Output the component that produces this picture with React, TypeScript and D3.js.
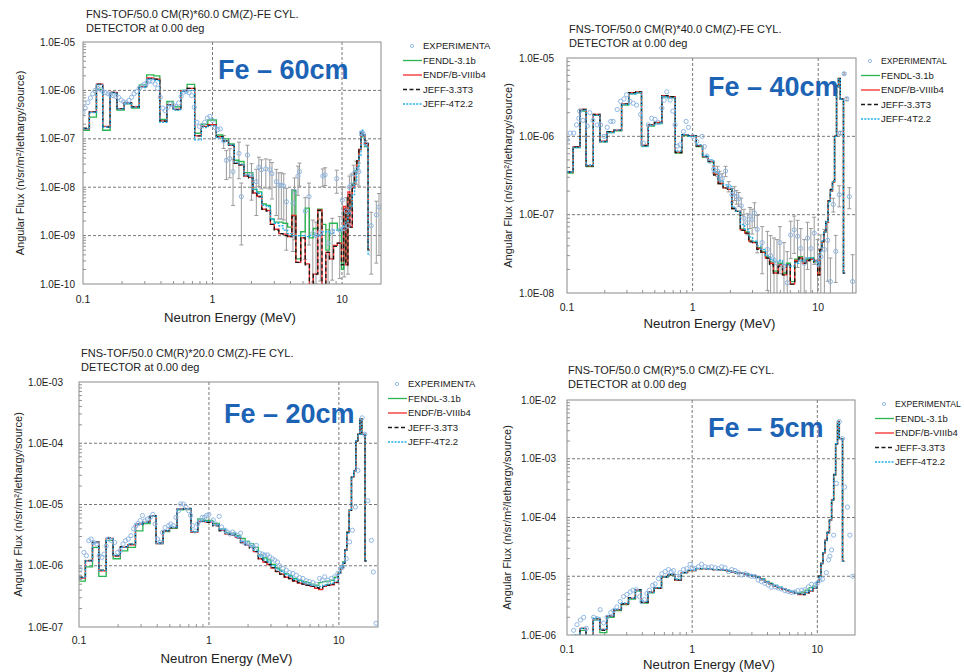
import React from "react";
import * as d3 from "d3";

// group boundaries (MeV) shared by all calculated spectra
const binEdges = [0.1, 0.112, 0.127, 0.142, 0.162, 0.183, 0.208, 0.237, 0.272, 0.31,
  0.352, 0.392, 0.444, 0.497, 0.569, 0.637, 0.728, 0.82, 0.92, 1.07,
  1.2, 1.33, 1.47, 1.6, 1.75, 1.9, 2.05, 2.2, 2.4, 2.6,
  2.8, 3.0, 3.25, 3.5, 3.8, 4.1, 4.4, 4.8, 5.2, 5.6,
  6.0, 6.5, 7.0, 7.5, 8.0, 8.6, 9.2, 9.9, 10.3, 10.7,
  11.1, 11.5, 12.0, 12.5, 13.0, 13.5, 14.0, 14.5, 15.0, 15.9,
  16.4];

// ---- Fe 60cm
const fendl60 = [1.5e-7, 2.8e-7, 1.05e-6, 1.5e-7, 9e-7, 3.9e-7, 5.3e-7, 4.3e-7, 1.3e-6, 2.1e-6,
  2.0e-6, 2.5e-7, 5.9e-7, 4.6e-7, 1.0e-6, 1.33e-6, 1.3e-7, 2.0e-7, 2.45e-7, 1.2e-7,
  1.0e-7, 7.8e-8, 3.6e-8, 3.4e-8, 2.0e-8, 2.0e-8, 9e-9, 8e-9, 4.5e-9, 4.2e-9,
  2.2e-9, 1.9e-9, 1.9e-9, 1.8e-9, 1.5e-9, 8.5e-9, 3.3e-10, 1.2e-9, 3.7e-9, 9e-10,
  1.4e-9, 3.5e-9, 1.7e-9, 5e-10, 1.8e-9, 1.8e-9, 1.3e-9, 2e-10, 3e-9, 3e-10,
  6e-9, 4e-9, 1.2e-8, 2.2e-8, 3.5e-8, 6e-8, 1.1e-7, 1.1e-7, 7e-8, 5e-10];
const endf60 = [1.6e-7, 3.6e-7, 1.35e-6, 1.8e-7, 9.1e-7, 4.2e-7, 5.6e-7, 4.6e-7, 1.2e-6, 1.8e-6,
  1.7e-6, 2.35e-7, 5.0e-7, 4.1e-7, 9.7e-7, 1.1e-6, 1.15e-7, 1.8e-7, 1.95e-7, 1.1e-7,
  9.2e-8, 7.3e-8, 3.1e-8, 2.9e-8, 1.7e-8, 1.6e-8, 7.6e-9, 6.5e-9, 3.5e-9, 3.3e-9,
  1.7e-9, 1.35e-9, 1.1e-9, 1.07e-9, 9.5e-10, 2.6e-9, 2.8e-10, 9.0e-10, 2.6e-10, 8e-11,
  1.6e-10, 3.4e-9, 8e-11, 4.5e-10, 3.3e-10, 6.3e-10, 7e-10, 3e-10, 4e-9, 2.5e-10,
  8e-9, 1.5e-9, 1.0e-8, 2.0e-8, 3.5e-8, 6e-8, 1.3e-7, 1.2e-7, 8e-8, 5e-10];
const jeff33_60 = [1.65e-7, 3.6e-7, 1.35e-6, 1.75e-7, 9.1e-7, 4.2e-7, 5.5e-7, 4.6e-7, 1.2e-6, 1.75e-6,
  1.7e-6, 2.3e-7, 5.0e-7, 4.0e-7, 9.6e-7, 1.1e-6, 1.15e-7, 1.8e-7, 1.9e-7, 1.1e-7,
  9.0e-8, 7.3e-8, 3.1e-8, 2.9e-8, 1.7e-8, 1.55e-8, 7.6e-9, 6.3e-9, 3.5e-9, 3.2e-9,
  1.7e-9, 1.3e-9, 1.1e-9, 1.0e-9, 9.5e-10, 2.5e-9, 2.8e-10, 9.0e-10, 2.5e-10, 8e-11,
  1.6e-10, 3.3e-9, 8e-11, 4.5e-10, 3.3e-10, 6.0e-10, 7e-10, 2.5e-10, 3.5e-9, 2.5e-10,
  7e-9, 1.5e-9, 1.1e-8, 2.0e-8, 3.5e-8, 6.5e-8, 1.35e-7, 1.2e-7, 8e-8, 5e-10];
const jeff4_60 = [1.6e-7, 3.5e-7, 1.3e-6, 1.75e-7, 8.9e-7, 4.1e-7, 5.5e-7, 4.5e-7, 1.15e-6, 1.7e-6,
  1.6e-6, 2.2e-7, 4.8e-7, 3.9e-7, 9.5e-7, 1.0e-6, 9.5e-8, 1.7e-7, 1.85e-7, 1.05e-7,
  9e-8, 7.5e-8, 3.3e-8, 3.0e-8, 1.8e-8, 1.7e-8, 9e-9, 7.5e-9, 4.2e-9, 4.0e-9,
  2.2e-9, 1.8e-9, 1.6e-9, 1.3e-9, 1.1e-9, 1.0e-9, 1.0e-9, 1.0e-9, 9.5e-10, 1.0e-9,
  1.0e-9, 1.0e-9, 1.2e-9, 1.2e-9, 1.1e-9, 1.3e-9, 1.3e-9, 1.4e-9, 1.6e-9, 2.0e-9,
  2.8e-9, 4e-9, 7e-9, 1.3e-8, 2.5e-8, 4.5e-8, 1.5e-7, 1.2e-7, 7e-8, 4e-10];
const expE60 = [0.1, 0.104, 0.109, 0.114, 0.119, 0.124, 0.13, 0.136, 0.142, 0.149,
  0.156, 0.163, 0.171, 0.179, 0.188, 0.197, 0.206, 0.216, 0.226, 0.237,
  0.248, 0.26, 0.272, 0.285, 0.298, 0.313, 0.328, 0.343, 0.36, 0.377,
  0.395, 0.413, 0.433, 0.454, 0.475, 0.498, 0.522, 0.547, 0.573, 0.6,
  0.629, 0.659, 0.69, 0.723, 0.757, 0.793, 0.831, 0.871, 0.912, 0.955,
  1.0, 1.05, 1.1, 1.15, 1.22, 1.28, 1.36, 1.44, 1.6, 1.67,
  1.86, 2.0, 2.18, 2.28, 2.39, 2.58, 2.77, 2.88, 3.11, 3.25,
  3.4, 3.55, 3.72, 4.18, 4.3, 4.57, 4.7, 5.2, 5.56, 5.95,
  6.3, 6.8, 7.1, 7.4, 7.8, 8.4, 9.1, 9.6, 10.05, 10.4,
  10.8, 11.1, 11.4, 11.8, 12.3, 12.9, 13.5, 14.1, 14.6, 15.2,
  16.8, 18.4, 19.3];
const expV60 = [3.5e-7, 4.3e-7, 5.6e-7, 7e-7, 8.5e-7, 1.0e-6, 1.1e-6, 1.05e-6, 9.5e-7, 9e-7,
  8.5e-7, 8.2e-7, 7.8e-7, 7.5e-7, 7.2e-7, 6.3e-7, 5.8e-7, 5.6e-7, 6.2e-7, 7.2e-7,
  8.5e-7, 9.5e-7, 1.1e-6, 1.25e-6, 1.35e-6, 1.45e-6, 1.55e-6, 1.55e-6, 1.35e-6, 1.1e-6,
  7.2e-7, 4.3e-7, 3.8e-7, 4.5e-7, 5.3e-7, 5.0e-7, 4.6e-7, 5.5e-7, 7.5e-7, 9.2e-7,
  9.5e-7, 9.0e-7, 7.8e-7, 4.5e-7, 2.2e-7, 1.8e-7, 1.9e-7, 2.2e-7, 2.7e-7, 2.9e-7,
  2.4e-7, 1.7e-7, 1.55e-7, 1.6e-7, 9e-8, 3.6e-8, 3.9e-8, 2.1e-8, 5e-8, 6.4e-9,
  4.6e-8, 1.8e-8, 1.3e-8, 2.6e-8, 2.3e-8, 2.4e-8, 2.3e-8, 1.9e-8, 1.3e-8, 1.1e-8,
  1.1e-8, 1.05e-8, 5e-9, 4.7e-9, 8.2e-9, 1.7e-8, 2.1e-8, 3.2e-9, 6.4e-9, 1.1e-9,
  1.0e-9, 1.15e-9, 1.7e-8, 1.8e-8, 7e-10, 1.2e-9, 1.5e-8, 1.3e-9, 5.4e-9, 1.4e-9,
  3.2e-9, 1.6e-9, 1e-8, 1.1e-8, 1.9e-8, 2.3e-8, 2.1e-8, 1.3e-7, 1.25e-7, 8e-8,
  1.6e-9, 2.7e-9, 3.9e-9];
// relative uncertainty
const expErr60 = [0, 0, 0, 0, 0, 0, 0, 0, 0, 0,
  0, 0, 0, 0, 0, 0, 0, 0, 0, 0,
  0, 0, 0, 0, 0, 0, 0, 0, 0, 0,
  0, 0, 0, 0, 0, 0, 0, 0, 0, 0,
  0, 0, 0, 0, 0, 0, 0, 0, 0, 0,
  0, 0, 0, 0, 0.3, 0.6, 0.6, 0.8, 0.7, 0.9,
  0.6, 0.7, 0.8, 0.6, 0.6, 0.6, 0.6, 0.7, 0.8, 0.8,
  0.8, 0.8, 0.9, 0.9, 0.9, 0.6, 0.5, 0.9, 0.9, 0.9,
  0.9, 0.9, 0.4, 0.4, 0.9, 0.9, 0.5, 0.9, 0.9, 0.9,
  0.9, 0.9, 0.7, 0.7, 0.5, 0.5, 0.5, 0.1, 0.1, 0.15,
  0.9, 0.9, 0.9];

// ---- Fe 40cm
const fendl40 = [3.4e-7, 7.2e-7, 2.1e-6, 4.1e-7, 1.85e-6, 8.5e-7, 1.12e-6, 1.18e-6, 2.5e-6, 3.5e-6,
  3.6e-6, 7.5e-7, 1.35e-6, 1.45e-6, 3.2e-6, 3.1e-6, 6.1e-7, 1.02e-6, 1.0e-6, 7.4e-7,
  5.4e-7, 4.7e-7, 3.3e-7, 2.5e-7, 2.2e-7, 2.1e-7, 1.2e-7, 1.1e-7, 6.6e-8, 6.0e-8,
  4.7e-8, 4.5e-8, 3.8e-8, 3.4e-8, 2.9e-8, 2.5e-8, 1.9e-8, 2.4e-8, 1.8e-8, 2.4e-8,
  1.4e-8, 2.7e-8, 2.9e-8, 2.5e-8, 2.7e-8, 2.8e-8, 2.5e-8, 1.8e-8, 3.5e-8, 4.5e-8,
  6.0e-8, 8.0e-8, 1.5e-7, 2.0e-7, 2.6e-7, 1.0e-6, 4.3e-6, 5.5e-6, 3.0e-6, 1.8e-8];
const endf40 = [3.5e-7, 7.4e-7, 2.2e-6, 4.2e-7, 1.9e-6, 8.7e-7, 1.15e-6, 1.2e-6, 2.6e-6, 3.6e-6,
  3.7e-6, 7.7e-7, 1.4e-6, 1.5e-6, 3.3e-6, 3.2e-6, 6.3e-7, 1.05e-6, 1.02e-6, 7.6e-7,
  5.5e-7, 4.8e-7, 3.3e-7, 2.5e-7, 2.2e-7, 2.1e-7, 1.2e-7, 1.1e-7, 6.4e-8, 5.8e-8,
  4.6e-8, 4.4e-8, 3.7e-8, 3.3e-8, 2.8e-8, 2.4e-8, 1.8e-8, 2.3e-8, 1.7e-8, 2.3e-8,
  1.3e-8, 2.6e-8, 2.8e-8, 2.4e-8, 2.6e-8, 2.7e-8, 2.6e-8, 1.7e-8, 3.5e-8, 4.5e-8,
  6.0e-8, 8.0e-8, 1.5e-7, 2.0e-7, 2.6e-7, 1.0e-6, 4.3e-6, 5.5e-6, 3.0e-6, 1.8e-8];
const jeff33_40 = [3.5e-7, 7.3e-7, 2.2e-6, 4.2e-7, 1.9e-6, 8.6e-7, 1.15e-6, 1.2e-6, 2.6e-6, 3.6e-6,
  3.7e-6, 7.6e-7, 1.4e-6, 1.5e-6, 3.3e-6, 3.2e-6, 6.2e-7, 1.05e-6, 1.02e-6, 7.5e-7,
  5.5e-7, 4.8e-7, 3.2e-7, 2.5e-7, 2.2e-7, 2.1e-7, 1.2e-7, 1.1e-7, 6.3e-8, 5.8e-8,
  4.5e-8, 4.4e-8, 3.6e-8, 3.3e-8, 2.8e-8, 2.3e-8, 1.8e-8, 2.2e-8, 1.7e-8, 2.3e-8,
  1.3e-8, 2.5e-8, 2.8e-8, 2.4e-8, 2.6e-8, 2.7e-8, 2.5e-8, 1.7e-8, 3.6e-8, 4.6e-8,
  6.2e-8, 8.2e-8, 1.5e-7, 2.1e-7, 2.7e-7, 1.0e-6, 4.4e-6, 5.6e-6, 3.0e-6, 1.8e-8];
const jeff4_40 = [3.5e-7, 7.2e-7, 2.15e-6, 4.3e-7, 1.85e-6, 8.6e-7, 1.12e-6, 1.2e-6, 2.55e-6, 3.5e-6,
  3.6e-6, 7.4e-7, 1.38e-6, 1.45e-6, 3.2e-6, 3.1e-6, 6.5e-7, 1.05e-6, 1.0e-6, 7.8e-7,
  5.7e-7, 5.0e-7, 3.5e-7, 2.7e-7, 2.4e-7, 2.3e-7, 1.25e-7, 1.1e-7, 7.5e-8, 6.5e-8,
  5.2e-8, 4.6e-8, 4.0e-8, 3.6e-8, 3.0e-8, 2.7e-8, 2.5e-8, 2.6e-8, 2.3e-8, 2.3e-8,
  2.2e-8, 2.4e-8, 2.6e-8, 2.6e-8, 2.8e-8, 2.8e-8, 2.6e-8, 2.2e-8, 3.3e-8, 4.6e-8,
  6.0e-8, 8.0e-8, 1.45e-7, 2.0e-7, 2.6e-7, 1.0e-6, 4.2e-6, 5.4e-6, 3.0e-6, 1.8e-8];
const expE40 = [0.1, 0.106, 0.113, 0.119, 0.124, 0.126, 0.134, 0.145, 0.152, 0.161,
  0.174, 0.185, 0.197, 0.209, 0.223, 0.233, 0.251, 0.267, 0.284, 0.298,
  0.317, 0.337, 0.358, 0.385, 0.405, 0.444, 0.472, 0.502, 0.534, 0.569,
  0.594, 0.623, 0.662, 0.696, 0.725, 0.757, 0.795, 0.845, 0.888, 0.926,
  0.999, 1.08, 1.19, 1.24, 1.3, 1.37, 1.47, 1.58, 1.64, 1.72,
  1.83, 1.94, 2.06, 2.16, 2.24, 2.33, 2.44, 2.56, 2.73, 2.86,
  2.98, 3.11, 3.27, 3.58, 3.94, 4.18, 4.45, 4.7, 4.96, 5.34,
  5.67, 6.04, 6.44, 6.85, 7.27, 7.74, 8.22, 8.74, 9.29, 9.88,
  10.5, 11.2, 11.9, 12.5, 13.2, 13.8, 14.7, 15.0, 16.1, 16.9,
  17.7, 18.8];
const expV40 = [9.1e-7, 1.1e-6, 1.1e-6, 1.4e-6, 1.7e-6, 2.1e-6, 1.6e-6, 1.35e-6, 2.0e-6, 1.6e-6,
  1.4e-6, 1.4e-6, 1.0e-6, 1.3e-6, 1.55e-6, 1.55e-6, 2.2e-6, 2.8e-6, 3.0e-6, 3.4e-6,
  2.8e-6, 2.65e-6, 2.5e-6, 1.9e-6, 8.2e-7, 1.4e-6, 1.7e-6, 1.65e-6, 1.5e-6, 2.3e-6,
  2.9e-6, 3.7e-6, 2.9e-6, 2.1e-6, 1.4e-6, 7.5e-7, 7.8e-7, 1.15e-6, 1.55e-6, 1.3e-6,
  1.0e-6, 8.6e-7, 1.0e-6, 7.4e-7, 5.6e-7, 4.8e-7, 3.8e-7, 3.6e-7, 3.1e-7, 2.9e-7,
  3.6e-7, 2.3e-7, 1.8e-7, 1.9e-7, 1.7e-7, 1.6e-7, 1.3e-7, 9e-8, 7.9e-8, 9.5e-8,
  8.7e-8, 1.05e-7, 6.5e-8, 4.4e-8, 3.6e-8, 3.0e-8, 2.65e-8, 2.4e-8, 4.4e-8, 2.2e-8,
  1.35e-8, 5.5e-8, 6.4e-8, 5.3e-8, 3.7e-8, 2.4e-8, 5.0e-8, 3.7e-8, 5.8e-8, 2.4e-8,
  2.9e-8, 3.6e-8, 4.7e-8, 1.4e-8, 1.35e-7, 3.4e-8, 1.8e-7, 1.1e-6, 6.3e-6, 3.0e-6,
  1.7e-7, 1.4e-8];
const expErr40 = [0, 0, 0, 0, 0, 0, 0, 0, 0, 0,
  0, 0, 0, 0, 0, 0, 0, 0, 0, 0,
  0, 0, 0, 0, 0, 0, 0, 0, 0, 0,
  0, 0, 0, 0, 0, 0, 0, 0, 0, 0,
  0, 0, 0, 0, 0, 0, 0.1, 0.15, 0.15, 0.15,
  0.15, 0.15, 0.2, 0.2, 0.2, 0.2, 0.25, 0.3, 0.3, 0.3,
  0.35, 0.35, 0.5, 0.6, 0.7, 0.8, 0.9, 1.0, 0.6, 1.0,
  1.5, 0.5, 0.5, 0.6, 0.8, 1.0, 0.6, 0.8, 0.6, 1.0,
  0.9, 0.8, 0.7, 1.0, 0.2, 0.6, 0.3, 0.05, 0.03, 0.05,
  0.3, 1.2];

// ---- Fe 20cm
const fendl20 = [5.6e-7, 9.6e-7, 2.0e-6, 6.7e-7, 2.6e-6, 1.3e-6, 1.75e-6, 2.0e-6, 3.7e-6, 4.9e-6,
  6.4e-6, 2.3e-6, 3.6e-6, 4.1e-6, 8.2e-6, 8.3e-6, 3.6e-6, 5.8e-6, 5.5e-6, 4.9e-6,
  4.0e-6, 3.5e-6, 3.4e-6, 3.1e-6, 2.8e-6, 2.5e-6, 2.3e-6, 2.0e-6, 1.5e-6, 1.35e-6,
  1.25e-6, 1.05e-6, 9.2e-7, 8.4e-7, 7.4e-7, 6.9e-7, 6.2e-7, 5.8e-7, 5.5e-7, 5.3e-7,
  5.0e-7, 4.8e-7, 5.3e-7, 5.5e-7, 5.6e-7, 5.8e-7, 6.5e-7, 7.8e-7, 9.2e-7, 1.15e-6,
  1.8e-6, 3.5e-6, 8e-6, 2.8e-5, 3.5e-5, 1.1e-4, 1.4e-4, 2.5e-4, 1.4e-4, 1.2e-6];
const endf20 = [6.3e-7, 1.2e-6, 2.4e-6, 8.3e-7, 2.8e-6, 1.45e-6, 2.0e-6, 2.2e-6, 4.8e-6, 5.1e-6,
  6.6e-6, 2.3e-6, 3.7e-6, 4.2e-6, 8.5e-6, 8.5e-6, 3.5e-6, 5.3e-6, 5.2e-6, 4.6e-6,
  3.8e-6, 3.3e-6, 3.2e-6, 2.9e-6, 2.4e-6, 2.15e-6, 2.0e-6, 1.7e-6, 1.3e-6, 1.15e-6,
  1.05e-6, 9.2e-7, 8.0e-7, 7.3e-7, 6.5e-7, 6.2e-7, 5.6e-7, 5.2e-7, 5.0e-7, 4.8e-7,
  4.6e-7, 4.3e-7, 4.1e-7, 4.6e-7, 4.8e-7, 4.9e-7, 5.3e-7, 7.5e-7, 9e-7, 1.1e-6,
  1.8e-6, 3.5e-6, 8e-6, 2.8e-5, 3.5e-5, 1.1e-4, 1.4e-4, 2.5e-4, 1.4e-4, 1.2e-6];
const jeff33_20 = [6.5e-7, 1.22e-6, 2.45e-6, 8.5e-7, 2.85e-6, 1.45e-6, 2.05e-6, 2.25e-6, 4.7e-6, 5.2e-6,
  6.5e-6, 2.35e-6, 3.75e-6, 4.2e-6, 8.4e-6, 8.6e-6, 3.6e-6, 5.3e-6, 5.1e-6, 4.5e-6,
  3.7e-6, 3.3e-6, 3.15e-6, 2.85e-6, 2.4e-6, 2.2e-6, 1.95e-6, 1.7e-6, 1.3e-6, 1.15e-6,
  1.05e-6, 9.3e-7, 8.1e-7, 7.3e-7, 6.6e-7, 6.2e-7, 5.7e-7, 5.3e-7, 5.0e-7, 4.8e-7,
  4.6e-7, 4.4e-7, 4.3e-7, 4.6e-7, 4.8e-7, 5.0e-7, 5.4e-7, 7.5e-7, 9e-7, 1.1e-6,
  1.8e-6, 3.5e-6, 8e-6, 2.9e-5, 3.6e-5, 1.1e-4, 1.4e-4, 2.5e-4, 1.4e-4, 1.2e-6];
const jeff4_20 = [6.4e-7, 1.2e-6, 2.4e-6, 8.4e-7, 2.8e-6, 1.5e-6, 2.0e-6, 2.25e-6, 4.8e-6, 5.1e-6,
  6.5e-6, 2.35e-6, 3.7e-6, 4.3e-6, 8.4e-6, 8.5e-6, 3.6e-6, 5.4e-6, 5.3e-6, 4.7e-6,
  3.9e-6, 3.4e-6, 3.3e-6, 3.0e-6, 2.5e-6, 2.25e-6, 2.1e-6, 1.8e-6, 1.4e-6, 1.25e-6,
  1.15e-6, 1.0e-6, 8.8e-7, 8.0e-7, 7.2e-7, 6.7e-7, 6.0e-7, 5.6e-7, 5.3e-7, 5.0e-7,
  4.8e-7, 4.6e-7, 4.6e-7, 4.8e-7, 5.0e-7, 5.2e-7, 5.6e-7, 7.6e-7, 9.2e-7, 1.1e-6,
  1.8e-6, 3.4e-6, 8e-6, 2.8e-5, 3.5e-5, 1.1e-4, 1.4e-4, 2.5e-4, 1.4e-4, 1.2e-6];
const expE20 = [0.102, 0.109, 0.114, 0.119, 0.124, 0.13, 0.137, 0.143, 0.15, 0.156,
  0.162, 0.169, 0.177, 0.188, 0.198, 0.208, 0.218, 0.228, 0.239, 0.251,
  0.263, 0.274, 0.285, 0.296, 0.308, 0.323, 0.336, 0.353, 0.37, 0.385,
  0.402, 0.421, 0.439, 0.46, 0.488, 0.508, 0.533, 0.558, 0.582, 0.606,
  0.635, 0.666, 0.698, 0.723, 0.749, 0.78, 0.818, 0.852, 0.888, 0.925,
  0.958, 0.999, 1.08, 1.13, 1.2, 1.25, 1.33, 1.39, 1.45, 1.52,
  1.58, 1.68, 1.75, 1.83, 1.92, 2.0, 2.12, 2.21, 2.32, 2.46,
  2.58, 2.69, 2.82, 2.94, 3.08, 3.21, 3.37, 3.5, 3.72, 3.94,
  4.18, 4.43, 4.7, 4.99, 5.29, 5.61, 5.95, 6.31, 6.7, 7.1,
  7.45, 7.77, 8.24, 8.74, 9.27, 9.83, 10.3, 10.7, 11.4, 12.1,
  12.7, 13.4, 14.0, 15.1, 15.8, 16.7, 17.8, 18.4, 19.3];
const expV20 = [8.8e-7, 1.65e-6, 1.46e-6, 2.57e-6, 2.73e-6, 2.4e-6, 2.26e-6, 1.46e-6, 1.37e-6, 1.55e-6,
  2.1e-6, 2.73e-6, 2.57e-6, 2.4e-6, 1.65e-6, 1.76e-6, 2.26e-6, 2.57e-6, 2.73e-6, 3.1e-6,
  4.0e-6, 4.5e-6, 4.9e-6, 5.45e-6, 6.6e-6, 5.45e-6, 5.8e-6, 6.15e-6, 6.9e-6, 4.8e-6,
  2.73e-6, 2.4e-6, 3.5e-6, 4.2e-6, 4.5e-6, 4.8e-6, 4.5e-6, 6.15e-6, 7.9e-6, 1.02e-5,
  1.02e-5, 9.0e-6, 7.9e-6, 6.6e-6, 4.5e-6, 3.7e-6, 4.8e-6, 5.45e-6, 6.15e-6, 6.15e-6,
  6.6e-6, 6.9e-6, 5.6e-6, 4.8e-6, 6.4e-6, 4.3e-6, 3.8e-6, 3.55e-6, 3.3e-6, 3.55e-6,
  3.3e-6, 3.1e-6, 3.4e-6, 2.45e-6, 2.3e-6, 2.35e-6, 2.15e-6, 2.0e-6, 2.15e-6, 1.6e-6,
  1.55e-6, 1.5e-6, 1.5e-6, 1.4e-6, 1.3e-6, 1.23e-6, 1.15e-6, 1.0e-6, 9.0e-7, 8.5e-7,
  7.7e-7, 7.5e-7, 7.0e-7, 6.4e-7, 6.2e-7, 5.7e-7, 5.5e-7, 5.3e-7, 5.0e-7, 6.2e-7,
  5.8e-7, 6.6e-7, 5.8e-7, 6.2e-7, 6.6e-7, 7.5e-7, 9.0e-7, 9.6e-7, 1.3e-6, 2.45e-6,
  3.8e-6, 9.1e-6, 3.6e-5, 2.6e-4, 1.4e-4, 1.15e-5, 2.6e-6, 7.9e-7, 1.15e-7];

// ---- Fe 5cm
const fendl5 = [7.5e-7, 9e-7, 1.2e-6, 7.5e-7, 1.8e-6, 1.1e-6, 2.0e-6, 2.6e-6, 3.3e-6, 4.1e-6,
  5.6e-6, 3.5e-6, 5.2e-6, 6.2e-6, 9.6e-6, 1.05e-5, 8.5e-6, 1.15e-5, 1.25e-5, 1.35e-5,
  1.35e-5, 1.33e-5, 1.3e-5, 1.3e-5, 1.27e-5, 1.22e-5, 1.18e-5, 1.15e-5, 1.12e-5, 1.08e-5,
  1.05e-5, 1.02e-5, 9.7e-6, 9.0e-6, 8.2e-6, 7.6e-6, 7.0e-6, 6.5e-6, 6.1e-6, 5.8e-6,
  5.5e-6, 5.3e-6, 5.2e-6, 5.4e-6, 5.8e-6, 6.4e-6, 6.8e-6, 8e-6, 1.0e-5, 1.65e-5,
  2.5e-5, 4.1e-5, 5.5e-5, 9e-5, 2.0e-4, 5.3e-4, 1.8e-3, 4.3e-3, 2.2e-3, 1.8e-5];
const endf5 = [8e-7, 9.5e-7, 1.3e-6, 8e-7, 1.9e-6, 1.25e-6, 2.1e-6, 2.7e-6, 3.4e-6, 4.2e-6,
  5.8e-6, 3.6e-6, 5.3e-6, 6.3e-6, 9.8e-6, 1.07e-5, 8.6e-6, 1.15e-5, 1.25e-5, 1.35e-5,
  1.35e-5, 1.33e-5, 1.3e-5, 1.3e-5, 1.28e-5, 1.22e-5, 1.18e-5, 1.15e-5, 1.12e-5, 1.08e-5,
  1.05e-5, 1.02e-5, 9.6e-6, 8.8e-6, 8.0e-6, 7.4e-6, 6.9e-6, 6.4e-6, 6.0e-6, 5.7e-6,
  5.4e-6, 5.1e-6, 4.9e-6, 4.9e-6, 5.2e-6, 5.6e-6, 6.2e-6, 8e-6, 1.0e-5, 1.65e-5,
  2.5e-5, 4.1e-5, 5.5e-5, 9e-5, 2.0e-4, 5.3e-4, 1.8e-3, 4.3e-3, 2.2e-3, 1.8e-5];
const jeff33_5 = [8.2e-7, 9.7e-7, 1.3e-6, 8.2e-7, 1.9e-6, 1.2e-6, 2.1e-6, 2.7e-6, 3.4e-6, 4.3e-6,
  5.9e-6, 3.6e-6, 5.4e-6, 6.3e-6, 9.9e-6, 1.07e-5, 8.7e-6, 1.16e-5, 1.26e-5, 1.35e-5,
  1.34e-5, 1.33e-5, 1.3e-5, 1.29e-5, 1.27e-5, 1.22e-5, 1.18e-5, 1.14e-5, 1.12e-5, 1.08e-5,
  1.05e-5, 1.01e-5, 9.6e-6, 8.8e-6, 8.0e-6, 7.5e-6, 6.9e-6, 6.4e-6, 6.0e-6, 5.7e-6,
  5.4e-6, 5.1e-6, 5.0e-6, 4.9e-6, 5.2e-6, 5.6e-6, 6.2e-6, 8e-6, 1.0e-5, 1.65e-5,
  2.5e-5, 4.1e-5, 5.6e-5, 9e-5, 2.0e-4, 5.4e-4, 1.8e-3, 4.2e-3, 2.2e-3, 1.8e-5];
const jeff4_5 = [8e-7, 1.0e-6, 1.3e-6, 8e-7, 1.95e-6, 1.25e-6, 2.1e-6, 2.75e-6, 3.5e-6, 4.2e-6,
  5.8e-6, 3.7e-6, 5.3e-6, 6.4e-6, 9.8e-6, 1.08e-5, 8.8e-6, 1.15e-5, 1.26e-5, 1.36e-5,
  1.36e-5, 1.34e-5, 1.31e-5, 1.3e-5, 1.28e-5, 1.23e-5, 1.19e-5, 1.16e-5, 1.13e-5, 1.09e-5,
  1.06e-5, 1.03e-5, 9.7e-6, 8.9e-6, 8.1e-6, 7.5e-6, 7.0e-6, 6.5e-6, 6.1e-6, 5.8e-6,
  5.5e-6, 5.2e-6, 5.0e-6, 5.0e-6, 5.3e-6, 5.7e-6, 6.3e-6, 8e-6, 1.0e-5, 1.6e-5,
  2.5e-5, 4.0e-5, 5.5e-5, 9e-5, 2.0e-4, 5.3e-4, 1.8e-3, 4.3e-3, 2.2e-3, 1.8e-5];
const expE5 = [0.113, 0.12, 0.128, 0.136, 0.143, 0.163, 0.174, 0.184, 0.196, 0.209,
  0.224, 0.236, 0.25, 0.266, 0.283, 0.301, 0.32, 0.336, 0.357, 0.38,
  0.396, 0.416, 0.435, 0.456, 0.483, 0.506, 0.538, 0.572, 0.609, 0.647,
  0.679, 0.71, 0.755, 0.801, 0.852, 0.905, 0.963, 1.0,
  1.06, 1.12, 1.19, 1.27, 1.35, 1.43, 1.53, 1.62, 1.72, 1.83,
  1.95, 2.07, 2.2, 2.34, 2.49, 2.65, 2.8, 2.98, 3.17, 3.37,
  3.58, 3.8, 4.05, 4.3, 4.58, 4.86, 5.17, 5.5, 5.85, 6.2,
  6.6, 7.0, 7.5, 7.96, 8.5, 9.0, 9.6, 10.0,
  10.5, 11.0, 11.8, 12.3, 12.6, 13.0, 13.5, 14.2, 15.0, 15.9,
  16.5, 17.4, 18.2, 19.2];
const expV5 = [1.2e-6, 1.5e-6, 1.8e-6, 2.0e-6, 1.3e-6, 2.0e-6, 1.9e-6, 2.7e-6, 1.6e-6, 2.0e-6,
  2.4e-6, 2.6e-6, 3.0e-6, 3.7e-6, 4.5e-6, 4.9e-6, 5.4e-6, 5.8e-6, 5.9e-6, 4.5e-6,
  3.7e-6, 4.0e-6, 5.1e-6, 5.8e-6, 7.0e-6, 7.4e-6, 9.1e-6, 1.1e-5, 1.2e-5, 1.3e-5,
  1.2e-5, 1.25e-5, 9.9e-6, 1.15e-5, 1.3e-5, 1.35e-5, 1.6e-5, 1.4e-5,
  1.35e-5, 1.45e-5, 1.6e-5, 1.45e-5, 1.4e-5, 1.45e-5, 1.4e-5, 1.35e-5, 1.45e-5, 1.4e-5,
  1.2e-5, 1.3e-5, 1.25e-5, 1.15e-5, 1.05e-5, 1.1e-5, 1.05e-5, 1.0e-5, 9.9e-6, 8.6e-6,
  8.1e-6, 7.6e-6, 7.1e-6, 6.5e-6, 6.6e-6, 6.3e-6, 6.1e-6, 5.7e-6, 5.5e-6, 5.3e-6,
  5.4e-6, 5.7e-6, 5.8e-6, 5.9e-6, 6.6e-6, 7.3e-6, 7.1e-6, 7.6e-6,
  8.6e-6, 8.9e-6, 1.15e-5, 1.9e-5, 2.2e-5, 2.8e-5, 5.0e-5, 3.8e-4, 4.3e-3, 2.2e-3,
  3.3e-4, 1.5e-4, 5.0e-5, 1.0e-5];

const libNames = ["FENDL-3.1b", "ENDF/B-VIIIb4", "JEFF-3.3T3", "JEFF-4T2.2"];
const libColors = ["#2bb552", "#f52a2a", "#1a1a1a", "#1fb0ea"];
const libDash = [null, null, "4,2.5", "2,1.3"];

const panels = [
  { id: "p60", title: "FNS-TOF/50.0 CM(R)*60.0 CM(Z)-FE CYL.", label: "Fe \u2013 60cm",
    left: 83, top: 42, right: 381, bottom: 284, yMin: 1e-10, yMax: 1e-5,
    series: [fendl60, endf60, jeff33_60, jeff4_60], expE: expE60, expV: expV60, expErr: expErr60,
    titleX: 86, titleY: 18, labelX: 218, labelY: 79, legX: 403, legY: 46, expName: "EXPERIMENTA",
    yTickGap: 8, xTickDy: 19, xTitleY: 322, yTitleX: 20 },
  { id: "p40", title: "FNS-TOF/50.0 CM(R)*40.0 CM(Z)-FE CYL.", label: "Fe \u2013 40cm",
    left: 567, top: 58, right: 856, bottom: 293, yMin: 1e-8, yMax: 1e-5,
    series: [fendl40, endf40, jeff33_40, jeff4_40], expE: expE40, expV: expV40, expErr: expErr40,
    titleX: 569, titleY: 33, labelX: 708, labelY: 96, legX: 861, legY: 61, expName: "EXPERIMENTAL",
    yTickGap: 13, xTickDy: 18, xTitleY: 328, yTitleX: 508 },
  { id: "p20", title: "FNS-TOF/50.0 CM(R)*20.0 CM(Z)-FE CYL.", label: "Fe \u2013 20cm",
    left: 79, top: 382, right: 378, bottom: 627, yMin: 1e-7, yMax: 1e-3,
    series: [fendl20, endf20, jeff33_20, jeff4_20], expE: expE20, expV: expV20, expErr: null,
    titleX: 81, titleY: 357, labelX: 224, labelY: 423, legX: 388, legY: 384, expName: "EXPERIMENTA",
    yTickGap: 16, xTickDy: 17, xTitleY: 663, yTitleX: 18 },
  { id: "p5", title: "FNS-TOF/50.0 CM(R)*5.0 CM(Z)-FE CYL.", label: "Fe \u2013 5cm",
    left: 567, top: 400, right: 855, bottom: 635, yMin: 1e-6, yMax: 1e-2,
    series: [fendl5, endf5, jeff33_5, jeff4_5], expE: expE5, expV: expV5, expErr: null,
    titleX: 568, titleY: 374, labelX: 708, labelY: 437, legX: 875, legY: 404, expName: "EXPERIMENTAL",
    yTickGap: 11, xTickDy: 18, xTitleY: 669, yTitleX: 507 },
];

const font = "'Liberation Sans', Arial, sans-serif";

const Panel = ({ p }) => {
  const x = d3.scaleLog().domain([0.1, 20]).range([p.left, p.right]);
  const y = d3.scaleLog().domain([p.yMin, p.yMax]).range([p.bottom, p.top]);
  const kLo = Math.round(Math.log10(p.yMin));
  const kHi = Math.round(Math.log10(p.yMax));
  const yMinor = d3.range(kLo, kHi).flatMap((k) => d3.range(2, 10).map((m) => m * Math.pow(10, k)));
  const xMinor = [-1, 0].flatMap((k) => d3.range(2, 10).map((m) => m * Math.pow(10, k)));

  const step = d3.line()
    .x((d, i) => x(binEdges[i]))
    .y((d) => y(d))
    .curve(d3.curveStepAfter);

  const clipId = "clip-" + p.id;
  const midY = (p.top + p.bottom) / 2;

  return (
    <g fontFamily={font}>
      <defs>
        <clipPath id={clipId}>
          <rect x={p.left} y={p.top} width={p.right - p.left} height={p.bottom - p.top} />
        </clipPath>
      </defs>
      <text x={p.titleX} y={p.titleY} fontSize={11} fill="#222">{p.title}</text>
      <text x={p.titleX} y={p.titleY + 13.5} fontSize={11} fill="#222">DETECTOR at 0.00 deg</text>

      {/* grid */}
      {d3.range(kLo + 1, kHi).map((k) => (
        <line key={"gy" + k} x1={p.left} x2={p.right} y1={y(Math.pow(10, k))} y2={y(Math.pow(10, k))}
          stroke="#555" strokeWidth={0.8} strokeDasharray="3,2" />
      ))}
      {[1, 10].map((v) => (
        <line key={"gx" + v} x1={x(v)} x2={x(v)} y1={p.top} y2={p.bottom}
          stroke="#555" strokeWidth={0.8} strokeDasharray="3,2" />
      ))}
      {/* minor ticks */}
      {yMinor.map((v, i) => (
        <line key={"ym" + i} x1={p.left} x2={p.left + 3} y1={y(v)} y2={y(v)} stroke="#777" strokeWidth={0.8} />
      ))}
      {xMinor.map((v, i) => (
        <line key={"xm" + i} x1={x(v)} x2={x(v)} y1={p.bottom} y2={p.bottom - 3} stroke="#777" strokeWidth={0.8} />
      ))}

      {/* error bars and calculations */}
      <g clipPath={`url(#${clipId})`}>
        {p.expErr && p.expE.map((e, i) => {
          const err = p.expErr[i];
          if (!err) return null;
          const v = p.expV[i];
          const lo = Math.max(v * (1 - err), p.yMin * 0.5);
          const hi = v * (1 + err);
          const cx = x(e);
          return (
            <g key={"eb" + i} stroke="#9a9a9a" strokeWidth={1}>
              <line x1={cx} x2={cx} y1={y(lo)} y2={y(hi)} />
              <line x1={cx - 2} x2={cx + 2} y1={y(hi)} y2={y(hi)} />
              <line x1={cx - 2} x2={cx + 2} y1={y(lo)} y2={y(lo)} />
            </g>
          );
        })}
        {p.series.map((vals, s) => (
          <path key={"s" + s} d={step([...vals, vals[vals.length - 1]])} fill="none"
            stroke={libColors[s]} strokeWidth={1.35}
            strokeDasharray={libDash[s] || undefined} />
        ))}
        {p.expE.map((e, i) => (
          <circle key={"ex" + i} cx={x(e)} cy={y(p.expV[i])} r={2.1} fill="none"
            stroke="#8cb3e0" strokeWidth={0.95} />
        ))}
      </g>

      <rect x={p.left} y={p.top} width={p.right - p.left} height={p.bottom - p.top}
        fill="none" stroke="#8a8a8a" strokeWidth={1} />

      {/* tick labels */}
      {d3.range(kLo, kHi + 1).map((k) => (
        <text key={"yl" + k} x={p.left - p.yTickGap} y={y(Math.pow(10, k))} dy="0.35em"
          textAnchor="end" fontSize={10} fill="#222">
          {"1.0E-" + String(Math.abs(k)).padStart(2, "0")}
        </text>
      ))}
      {[0.1, 1, 10].map((v) => (
        <text key={"xl" + v} x={x(v)} y={p.bottom + p.xTickDy} textAnchor="middle" fontSize={10.5} fill="#222">
          {String(v)}
        </text>
      ))}

      <text x={(p.left + p.right) / 2 - 2} y={p.xTitleY} textAnchor="middle" fontSize={13.2} fill="#222">
        Neutron Energy (MeV)
      </text>
      <text transform={`translate(${p.yTitleX},${midY}) rotate(-90)`} textAnchor="middle"
        dy="0.35em" fontSize={11} fill="#222">
        Angular Flux (n/sr/m²/lethargy/source)
      </text>

      <text x={p.labelX} y={p.labelY} fontSize={27} fontWeight="bold" fill="#1c63b5">{p.label}</text>

      {/* legend */}
      <circle cx={p.legX + 9} cy={p.legY} r={1.6} fill="none" stroke="#8cb3e0" strokeWidth={0.9} />
      <text x={p.legX + 20} y={p.legY} dy="0.35em" fontSize={p.expName.length > 11 ? 8.6 : 9.5} fill="#222">
        {p.expName}
      </text>
      {libNames.map((name, s) => {
        const ly = p.legY + 14.5 * (s + 1);
        return (
          <g key={"lg" + s}>
            <line x1={p.legX} x2={p.legX + 19} y1={ly} y2={ly} stroke={libColors[s]} strokeWidth={1.3}
              strokeDasharray={libDash[s] || undefined} />
            <text x={p.legX + 20} y={ly} dy="0.35em" fontSize={9.5} fill="#222">{name}</text>
          </g>
        );
      })}
    </g>
  );
};

export default function App() {
  return (
    <svg width={964} height={672} style={{ position: "absolute", left: 0, top: 0, background: "#fff" }}>
      <rect width={964} height={672} fill="#fff" />
      {panels.map((p) => <Panel key={p.id} p={p} />)}
    </svg>
  );
}
